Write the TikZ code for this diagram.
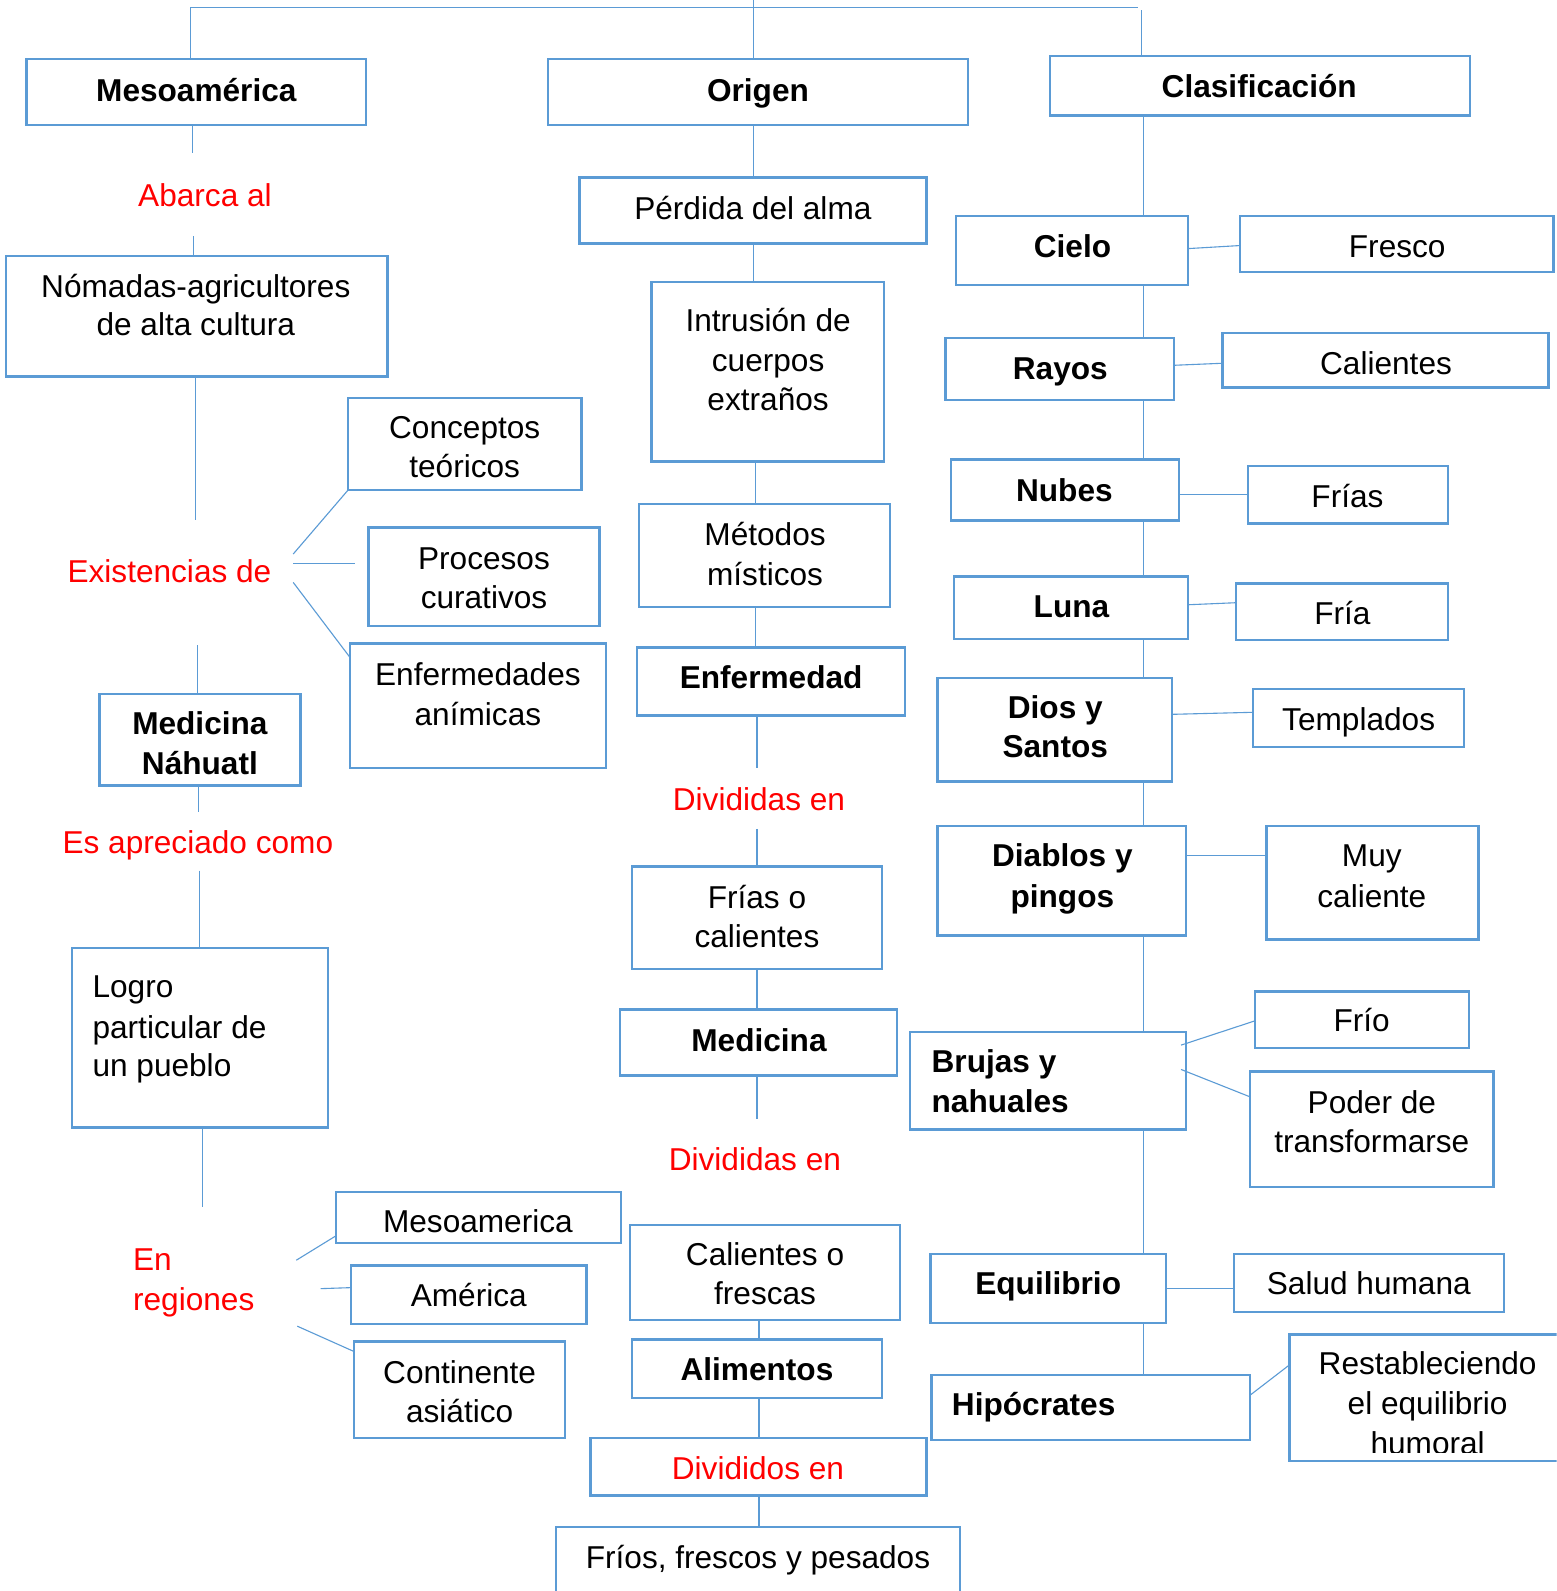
\documentclass[tikz,border=0pt]{standalone}
\usepackage{fontspec}
\setmainfont{Liberation Sans}
\usetikzlibrary{fit}
\definecolor{boxblue}{HTML}{5B9BD5}
\definecolor{lineblue}{HTML}{5B9BD5}
\newcommand\fs{\fontsize{31.6}{39}\selectfont}
\begin{document}
\begin{tikzpicture}[x=1.01434pt,y=-1.01434pt,
 bx/.style={draw=boxblue,line width=2.4pt,fill=white,inner sep=0pt,outer sep=0pt},
 ln/.style={draw=lineblue,line width=1.1pt},
 tx/.style={inner sep=0pt,anchor=base,font=\fs},
 txl/.style={tx,anchor=base west},
 rd/.style={tx,text=red},
 rdl/.style={txl,text=red},
 bd/.style={tx,font=\fs\bfseries},
 bdl/.style={txl,font=\fs\bfseries}]
\clip (0,0) rectangle (1534,1568);
\fill[white] (0,0) rectangle (1534,1568);
% ---------- boxes
\node[bx,fit={(26,58)(361,123)}] (bmeso) {};
\node[bx,fit={(6,252)(382,371)}] (bnom) {};
\node[bx,fit={(98,684)(296,774)}] (bmedn) {};
\node[bx,fit={(71,934)(323,1111)}] (blogro) {};
\node[bx,fit={(343,392)(573,483)}] (bconc) {};
\node[bx,fit={(363,520)(591,617)}] (bproc) {};
\node[bx,fit={(345,634)(597,757)}] (benfa) {};
\node[bx,fit={(331,1175)(612,1225)}] (bmesob) {};
\node[bx,fit={(346,1247)(578,1305)}] (bamer) {};
\node[bx,fit={(349,1322)(557,1417)}] (bcont) {};
\node[bx,fit={(540,58)(954,123)}] (borig) {};
\node[bx,fit={(571,175)(913,240)}] (bperd) {};
\node[bx,fit={(642,278)(871,455)}] (bintr) {};
\node[bx,fit={(630,497)(877,598)}] (bmet) {};
\node[bx,fit={(628,638)(892,705)}] (benf) {};
\node[bx,fit={(623,854)(869,955)}] (bfc) {};
\node[bx,fit={(611,995)(884,1060)}] (bmed) {};
\node[bx,fit={(621,1207)(887,1301)}] (bcal) {};
\node[bx,fit={(623,1320)(869,1378)}] (balim) {};
\node[bx,fit={(582,1417)(913,1474)}] (bdiv) {};
\node[bx,fit={(548,1505)(946,1600)}] (bfrios) {};
\node[bx,fit={(1035,55)(1449,114)}] (bclas) {};
\node[bx,fit={(942,213)(1171,281)}] (bcielo) {};
\node[bx,fit={(1222,213)(1531,268)}] (bfresco) {};
\node[bx,fit={(932,333)(1157,394)}] (brayos) {};
\node[bx,fit={(1205,328)(1526,382)}] (bcalien) {};
\node[bx,fit={(937,453)(1162,513)}] (bnubes) {};
\node[bx,fit={(1230,459)(1427,516)}] (bfrias) {};
\node[bx,fit={(940,568)(1171,630)}] (bluna) {};
\node[bx,fit={(1218,575)(1427,631)}] (bfria) {};
\node[bx,fit={(924,668)(1155,770)}] (bdios) {};
\node[bx,fit={(1235,679)(1443,736)}] (btempl) {};
\node[bx,fit={(924,814)(1169,922)}] (bdiab) {};
\node[bx,fit={(1248,814)(1457,926)}] (bmuy) {};
\node[bx,fit={(897,1017)(1169,1113)}] (bbruj) {};
\node[bx,fit={(1237,977)(1448,1033)}] (bfrio) {};
\node[bx,fit={(1232,1056)(1472,1170)}] (bpoder) {};
\node[bx,fit={(917,1236)(1149,1304)}] (bequi) {};
\node[bx,fit={(1216,1236)(1482,1293)}] (bsalud) {};
\node[bx,fit={(918,1355)(1232,1419)}] (bhipo) {};
\node[bx,fit={(1271,1315)(1570,1440)}] (brest) {};
% ---------- connectors: top
\coordinate (top1) at (188,7);
\coordinate (top2) at (1122,7);
\coordinate (top0) at (743,0);
\coordinate (top3) at (1125,10);
\draw[ln] (top1) -- (top2);
\draw[ln] (top1) -- (bmeso.north -| top1);
\draw[ln] (top0) -- (borig.north -| top0);
\draw[ln] (top3) -- (bclas.north -| top3);
% left column
\coordinate (c1) at (190,151); \draw[ln] (bmeso.south -| c1) -- (c1);
\coordinate (c2) at (191,233); \draw[ln] (c2) -- (bnom.north -| c2);
\coordinate (c3) at (193,512); \draw[ln] (bnom.south -| c3) -- (c3);
\coordinate (c4) at (289,546); \draw[ln] (c4) -- (bconc.south west);
\coordinate (c5) at (289,555); \coordinate (c5b) at (350,555); \draw[ln] (c5) -- (c5b);
\coordinate (c6) at (289,574); \draw[ln] (c6) -- (benfa.west |- 0,648);
\coordinate (c7) at (195,636); \draw[ln] (c7) -- (bmedn.north -| c7);
\coordinate (c8) at (196,800); \draw[ln] (bmedn.south -| c8) -- (c8);
\coordinate (c9) at (197,858); \draw[ln] (c9) -- (blogro.north -| c9);
\coordinate (c10) at (200,1190); \draw[ln] (blogro.south -| c10) -- (c10);
\coordinate (c11) at (292,1242); \draw[ln] (c11) -- (bmesob.west |- 0,1218);
\coordinate (c12) at (316,1270); \draw[ln] (c12) -- (bamer.west |- 0,1269);
\coordinate (c13) at (293,1307); \draw[ln] (c13) -- (bcont.west |- 0,1332);
% middle column
\draw[ln] (borig.south -| 743,0) -- (bperd.north -| 743,0);
\draw[ln] (bperd.south -| 743,0) -- (bintr.north -| 743,0);
\draw[ln] (bintr.south -| 745,0) -- (bmet.north -| 745,0);
\draw[ln] (bmet.south -| 745,0) -- (benf.north -| 745,0);
\coordinate (m1) at (746,757); \draw[ln] (benf.south -| m1) -- (m1);
\coordinate (m2) at (746,817); \draw[ln] (m2) -- (bfc.north -| m2);
\draw[ln] (bfc.south -| m2) -- (bmed.north -| m2);
\coordinate (m3) at (746,1103); \draw[ln] (bmed.south -| m3) -- (m3);
\draw[ln] (bcal.south -| 748,0) -- (balim.north -| 748,0);
\draw[ln] (balim.south -| 748,0) -- (bdiv.north -| 748,0);
\draw[ln] (bdiv.south -| 748,0) -- (bfrios.north -| 748,0);
% right column
\foreach \a/\b in {bclas/bcielo,bcielo/brayos,brayos/bnubes,bnubes/bluna,bluna/bdios,bdios/bdiab,bdiab/bbruj,bbruj/bequi,bequi/bhipo}
  \draw[ln] (\a.south -| 1127,0) -- (\b.north -| 1127,0);
\draw[ln] (bcielo.east |- 0,245) -- (bfresco.west |- 0,242);
\draw[ln] (brayos.east |- 0,360) -- (bcalien.west |- 0,358);
\draw[ln] (bnubes.east |- 0,487) -- (bfrias.west |- 0,487);
\draw[ln] (bluna.east |- 0,596) -- (bfria.west |- 0,594);
\draw[ln] (bdios.east |- 0,704) -- (btempl.west |- 0,702);
\draw[ln] (bdiab.east |- 0,843) -- (bmuy.west |- 0,843);
\coordinate (r1) at (1164,1030); \draw[ln] (r1) -- (bfrio.west |- 0,1006);
\coordinate (r2) at (1164,1054); \draw[ln] (r2) -- (bpoder.west |- 0,1081);
\draw[ln] (bequi.east |- 0,1270) -- (bsalud.west |- 0,1270);
\draw[ln] (bhipo.east |- 0,1375) -- (brest.west |- 0,1345);
% ---------- texts: left
\node[bd] (tmeso) at (193.5,100) {Mesoamérica};
\node[rd] (tabarca) at (202,204) {Abarca al};
\node[tx] (tnom1) at (193,293) {Nómadas-agricultores};
\node[tx] (tnom2) at (193,331) {de alta cultura};
\node[rd] (texist) at (167,574) {Existencias de};
\node[bd] (tmedn1) at (197,724) {Medicina};
\node[bd] (tmedn2) at (197,763) {Náhuatl};
\node[rd] (tesap) at (195,841) {Es apreciado como};
\node[txl] (tlog1) at (91,983) {Logro};
\node[txl] (tlog2) at (91,1023) {particular de};
\node[txl] (tlog3) at (91,1061) {un pueblo};
\node[rdl] (ten1) at (131,1252) {En};
\node[rdl] (ten2) at (131,1292) {regiones};
% middle-left
\node[tx] (tconc1) at (458,432) {Conceptos};
\node[tx] (tconc2) at (458,471) {teóricos};
\node[tx] (tproc1) at (477,561) {Procesos};
\node[tx] (tproc2) at (477,600) {curativos};
\node[tx] (tenfa1) at (471,676) {Enfermedades};
\node[tx] (tenfa2) at (471,715) {anímicas};
\node[tx] (tmesob) at (471,1215) {Mesoamerica};
\node[tx] (tamer) at (462,1288) {América};
\node[tx] (tcont1) at (453,1363) {Continente};
\node[tx] (tcont2) at (453,1402) {asiático};
% middle
\node[bd] (torig) at (747,100) {Origen};
\node[tx] (tperd) at (742,216) {Pérdida del alma};
\node[tx] (tintr1) at (757,327) {Intrusión de};
\node[tx] (tintr2) at (757,366) {cuerpos};
\node[tx] (tintr3) at (757,405) {extraños};
\node[tx] (tmet1) at (754,538) {Métodos};
\node[tx] (tmet2) at (754,577) {místicos};
\node[bd] (tenf) at (760,679) {Enfermedad};
\node[rd] (tdiv1) at (748,799) {Divididas en};
\node[tx] (tfc1) at (746,895) {Frías o};
\node[tx] (tfc2) at (746,934) {calientes};
\node[bd] (tmed) at (748,1036) {Medicina};
\node[rd] (tdiv2) at (744,1154) {Divididas en};
\node[tx] (tcal1) at (754,1247) {Calientes o};
\node[tx] (tcal2) at (754,1286) {frescas};
\node[bd] (talim) at (746,1361) {Alimentos};
\node[rd] (tdiv3) at (747,1458) {Divididos en};
\node[tx] (tfrios) at (747,1546) {Fríos, frescos y pesados};
% right
\node[bd] (tclas) at (1241,96) {Clasificación};
\node[bd] (tcielo) at (1057,254) {Cielo};
\node[tx] (tfresco) at (1377,254) {Fresco};
\node[bd] (trayos) at (1045,374) {Rayos};
\node[tx] (tcalien) at (1366,369) {Calientes};
\node[bd] (tnubes) at (1049,494) {Nubes};
\node[tx] (tfrias) at (1328,500) {Frías};
\node[bd] (tluna) at (1056,609) {Luna};
\node[tx] (tfria) at (1323,615) {Fría};
\node[bd] (tdios1) at (1040,708) {Dios y};
\node[bd] (tdios2) at (1040,747) {Santos};
\node[tx] (ttempl) at (1339,720) {Templados};
\node[bd] (tdiab1) at (1047,854) {Diablos y};
\node[bd] (tdiab2) at (1047,894) {pingos};
\node[tx] (tmuy1) at (1352,854) {Muy};
\node[tx] (tmuy2) at (1352,894) {caliente};
\node[bdl] (tbruj1) at (918,1057) {Brujas y};
\node[bdl] (tbruj2) at (918,1096) {nahuales};
\node[tx] (tfrio) at (1342,1017) {Frío};
\node[tx] (tpod1) at (1352,1097) {Poder de};
\node[tx] (tpod2) at (1352,1136) {transformarse};
\node[bd] (tequi) at (1033,1276) {Equilibrio};
\node[tx] (tsalud) at (1349,1276) {Salud humana};
\node[bdl] (thipo) at (938,1395) {Hipócrates};
\begin{scope}
\clip (1271,1315) rectangle (1534,1431);
\node[tx] (trest1) at (1407,1355) {Restableciendo};
\node[tx] (trest2) at (1407,1394) {el equilibrio};
\node[tx] (trest3) at (1407,1433) {humoral};
\end{scope}
\end{tikzpicture}
\end{document}
